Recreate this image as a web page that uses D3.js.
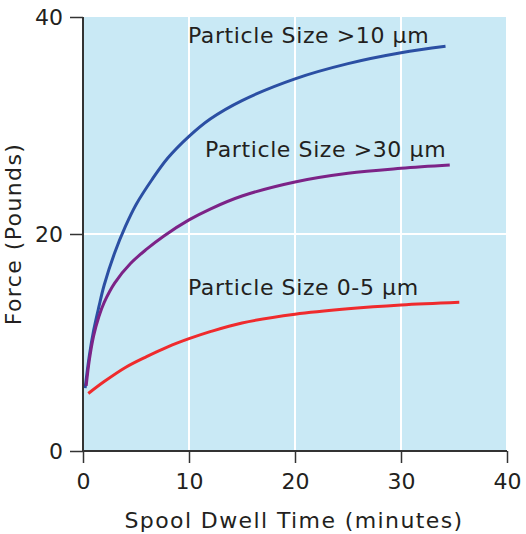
<!DOCTYPE html>
<meta charset="utf-8">
<style>
body { margin: 0; background: #fff; }
svg text { font-family: "DejaVu Sans", sans-serif; fill: #231f20; }
</style>
<body>
<div id="chart"></div>
<script src="https://d3js.org/d3.v7.min.js"></script>
<script>
// data (time in minutes, force in pounds)
const xTicks = [0, 10, 20, 30, 40];
const yTicks = [0, 20, 40];
const xGrid = [10, 20, 30];
const yGrid = [20];

const seriesNames = ["Particle Size >10 \u03bcm", "Particle Size >30 \u03bcm", "Particle Size 0-5 \u03bcm"];
const seriesColors = ["#2b4fa3", "#7c2387", "#ef2b2d"];

const timeBlue    = [0.2, 0.6, 1, 1.5, 2, 3, 4, 5, 6.5, 8, 10, 12, 15, 20, 25, 30, 34.2];
const forceBlue   = [5.8, 8.8, 11.1, 13.3, 15.3, 18.3, 20.7, 22.7, 25.0, 27.0, 29.0, 30.6, 32.3, 34.3, 35.7, 36.7, 37.3];
const timePurple  = [0.3, 0.6, 1, 1.5, 2, 3, 4.5, 6, 7.6, 10, 12, 15, 20, 25, 30, 34.6];
const forcePurple = [6.0, 8.4, 10.6, 12.4, 13.7, 15.5, 17.3, 18.6, 19.8, 21.3, 22.3, 23.5, 24.8, 25.6, 26.05, 26.35];
const timeRed     = [0.5, 2, 4, 6, 8, 10, 12, 15, 20, 25, 30, 35.5];
const forceRed    = [5.3, 6.4, 7.7, 8.7, 9.6, 10.35, 11.0, 11.8, 12.6, 13.1, 13.45, 13.7];

const labelPos = [[9.9, 37.6], [11.5, 27.1], [9.9, 14.4]]; // label anchor (data units)

const width = 526, height = 534;
const x = d3.scaleLinear().domain([0, 40]).range([83, 507]);
const y = d3.scaleLinear().domain([0, 40]).range([451, 17]);

const svg = d3.select("#chart").append("svg")
  .attr("width", width).attr("height", height);

svg.append("rect")
  .attr("x", x(0)).attr("y", y(40))
  .attr("width", 506 - x(0)).attr("height", y(0) - y(40))
  .attr("fill", "#c9e9f5");

svg.append("g").selectAll("line").data(xGrid).join("line")
  .attr("x1", d => x(d)).attr("x2", d => x(d))
  .attr("y1", y(40)).attr("y2", y(0))
  .attr("stroke", "#fff").attr("stroke-width", 2);

svg.append("g").selectAll("line").data(yGrid).join("line")
  .attr("x1", x(0)).attr("x2", 506)
  .attr("y1", d => y(d)).attr("y2", d => y(d))
  .attr("stroke", "#fff").attr("stroke-width", 2);

const series = [
  timeBlue.map((t, i) => [t, forceBlue[i]]),
  timePurple.map((t, i) => [t, forcePurple[i]]),
  timeRed.map((t, i) => [t, forceRed[i]])
];

const line = d3.line()
  .x(d => x(d[0])).y(d => y(d[1]))
  .curve(d3.curveCatmullRom.alpha(0.5));

svg.append("g").selectAll("path").data(series).join("path")
  .attr("d", line)
  .attr("fill", "none")
  .attr("stroke", (d, i) => seriesColors[i])
  .attr("stroke-width", 3);

svg.append("g").selectAll("text").data(seriesNames).join("text")
  .attr("x", (d, i) => x(labelPos[i][0]))
  .attr("y", (d, i) => y(labelPos[i][1]))
  .attr("font-size", "22px")
  .attr("letter-spacing", "0.6px")
  .text(d => d);

// axes
const xAxis = svg.append("g")
  .attr("transform", `translate(0,${y(0)})`)
  .call(d3.axisBottom(x).tickValues(xTicks).tickSize(12).tickPadding(10).tickFormat(d3.format("d")));
const yAxis = svg.append("g")
  .attr("transform", `translate(${x(0)},0)`)
  .call(d3.axisLeft(y).tickValues(yTicks).tickSize(13).tickPadding(7).tickFormat(d3.format("d")));

[xAxis, yAxis].forEach(g => {
  g.select(".domain").attr("stroke", "#333").attr("stroke-width", 2);
  g.selectAll(".tick line").attr("stroke", "#333").attr("stroke-width", 1.5);
  g.selectAll(".tick text").attr("font-size", "22px").attr("fill", "#231f20")
    .style("font-family", "'DejaVu Sans', sans-serif");
});
xAxis.select(".domain").attr("d", `M${x(0)},0H${x(40)}`);
yAxis.select(".domain").attr("d", `M0,${y(0)}V${y(40)}`);

svg.append("text")
  .attr("x", 294).attr("y", 528)
  .attr("text-anchor", "middle")
  .attr("font-size", "22px")
  .attr("letter-spacing", "1.4px")
  .text("Spool Dwell Time (minutes)");

svg.append("text")
  .attr("transform", `translate(21,${(y(0) + y(40)) / 2}) rotate(-90)`)
  .attr("text-anchor", "middle")
  .attr("font-size", "22px")
  .attr("letter-spacing", "1.4px")
  .text("Force (Pounds)");
</script>
